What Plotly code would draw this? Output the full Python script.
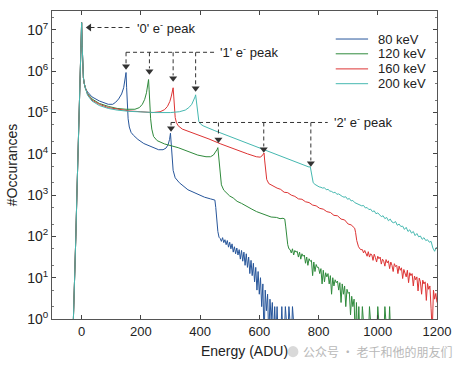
import numpy as np
import plotly.graph_objects as go

# ---------------- data (energies in ADU, counts read as log10 from the plot) ----------------
series_names = ["80 keV", "120 keV", "160 keV", "200 keV"]
series_colors = ["#27569b", "#2f8a3c", "#dd3333", "#45b8b0"]

# shared zero-electron peak rise
zero_x = [-29, -27, -23, -19.5, -16, -12, -8.5, -5, -2.5, 0, 2, 4, 6, 9, 13]
zero_log = [-0.3, 0.1, 1.0, 2.0, 3.0, 4.0, 5.0, 6.0, 6.7, 7.18, 6.6, 6.15, 5.85, 5.7, 5.58]

# 80 keV smooth part
e80_x = [20, 35, 60, 90, 105, 115, 125, 135, 142, 147, 150, 152, 154, 157, 161, 167, 175, 190, 210,
         235, 260, 275, 285, 292, 297, 300, 302, 305, 309, 316, 330, 359, 390, 415, 435, 446, 450,
         453, 456, 460, 464]
e80_log = [5.5, 5.38, 5.28, 5.2, 5.2, 5.25, 5.33, 5.45, 5.6, 5.8, 5.97, 5.6, 5.15, 4.85, 4.65, 4.52,
           4.45, 4.35, 4.25, 4.17, 4.1, 4.1, 4.14, 4.22, 4.35, 4.5, 4.25, 3.85, 3.6, 3.42, 3.3, 3.13,
           3.02, 2.95, 2.91, 2.9, 2.88, 2.7, 2.4, 2.12, 1.98]
# 80 keV noisy tail, x = 468, 472, ...
e80_tail_start = 468
e80_tail_log = [1.95, 1.88, 1.97, 1.85, 1.92, 1.80, 1.90, 1.74, 1.86, 1.70, 1.82, 1.62, 1.75, 1.58,
                1.72, 1.55, 1.68, 1.45, 1.66, 1.40, 1.62, 1.30, 1.58, 1.25, 1.50, 1.10, 1.42, 1.05,
                1.35, 0.90, 1.25, 0.70, 1.15, 0.60, 1.00, 0.30, 0.85, -0.5, 0.70, 0.20, 0.60, -0.5,
                0.48, 0.0, 0.40, -0.5, 0.30, -0.5, 0.30, -0.5, 0.0, -0.5, 0.30, -0.5, -0.5, 0.30,
                -0.5, -0.5, 0.30, -0.5, -0.5, 0.30, -0.5, -0.5]

# 120 keV smooth part
e120_x = [20, 35, 60, 90, 120, 150, 180, 195, 205, 213, 219, 223, 226, 228, 230, 233, 237, 243, 255,
          280, 326, 360, 392, 420, 435, 445, 452, 457, 460, 462, 465, 468, 472, 480, 490, 500, 512,
          525, 540, 558, 575, 591, 608, 625, 640, 658, 670, 680, 686, 689, 692, 696, 700]
e120_log = [5.46, 5.33, 5.22, 5.15, 5.1, 5.08, 5.08, 5.12, 5.2, 5.32, 5.48, 5.62, 5.8, 5.55, 5.2,
            4.85, 4.6, 4.42, 4.32, 4.24, 4.15, 4.05, 3.97, 3.93, 3.93, 3.97, 4.03, 4.1, 4.15, 4.0,
            3.7, 3.45, 3.25, 3.12, 3.04, 2.98, 2.93, 2.85, 2.8, 2.72, 2.66, 2.6, 2.56, 2.52, 2.47,
            2.46, 2.43, 2.44, 2.42, 2.25, 2.0, 1.8, 1.7]
# 120 keV noisy tail, x = 704, 708, ...
e120_tail_start = 704
e120_tail_log = [1.68, 1.60, 1.70, 1.55, 1.66, 1.62, 1.64, 1.50, 1.62, 1.45, 1.58, 1.52, 1.55, 1.35,
                 1.50, 1.30, 1.46, 1.40, 1.42, 1.05, 1.38, 1.15, 1.32, 1.25, 1.25, 1.10, 1.22, 0.85,
                 1.18, 0.90, 1.12, 1.02, 1.10, 0.85, 1.05, 0.60, 1.00, 0.80, 0.95, 0.88, 0.92, 0.70,
                 0.88, 0.40, 0.85, 0.60, 0.80, 0.30, 0.72, 0.62, 0.65, 0.10, 0.55, 0.30, 0.48, -0.5,
                 0.40, -0.5, 0.30, -0.5, -0.5, 0.30, -0.5, -0.5, -0.5, -0.5, -0.5, 0.30, -0.5, -0.5,
                 -0.5, -0.5, -0.5, -0.5, 0.30, -0.5, -0.5, -0.5, -0.5, -0.5, 0.30, -0.5, -0.5, -0.5,
                 0.30, -0.5, -0.5]

# 160 keV smooth part
e160_x = [20, 35, 60, 90, 120, 160, 200, 240, 265, 280, 290, 298, 303, 307, 309, 311, 313, 316, 320,
          326, 340, 359, 392, 430, 470, 520, 560, 590, 603, 609, 613, 616, 618, 621, 625, 632, 650,
          660, 672, 684, 696, 708, 720, 732, 744, 756, 768, 780, 792, 804, 816, 828, 840, 852, 864,
          876, 888, 900, 910, 918, 922, 925, 929, 935, 942]
e160_log = [5.44, 5.3, 5.2, 5.12, 5.08, 5.04, 5.02, 5.0, 5.02, 5.07, 5.15, 5.27, 5.4, 5.52, 5.6, 5.4,
            5.1, 4.88, 4.76, 4.68, 4.6, 4.55, 4.47, 4.36, 4.24, 4.1, 4.0, 3.93, 3.92, 3.95, 3.99,
            4.02, 3.85, 3.55, 3.38, 3.28, 3.2, 3.17, 3.14, 3.07, 3.06, 3.0, 2.97, 2.91, 2.9, 2.84,
            2.82, 2.76, 2.74, 2.68, 2.66, 2.6, 2.58, 2.51, 2.5, 2.42, 2.4, 2.3, 2.28, 2.22, 2.2,
            2.1, 1.9, 1.75, 1.68]
# 160 keV noisy tail, x = 948, 952, ...
e160_tail_start = 948
e160_tail_log = [1.68, 1.60, 1.66, 1.57, 1.52, 1.63, 1.50, 1.58, 1.55, 1.42, 1.57, 1.49, 1.38, 1.52,
                 1.46, 1.50, 1.33, 1.45, 1.40, 1.28, 1.44, 1.36, 1.41, 1.22, 1.38, 1.30, 1.15, 1.34,
                 1.27, 1.30, 1.10, 1.28, 1.18, 1.24, 0.98, 1.20, 1.12, 1.02, 1.18, 0.88, 1.12, 1.05,
                 1.10, 0.80, 1.04, 0.95, 1.02, 0.68, 0.99, 0.90, 0.60, 0.94, 0.85, 0.90, 0.45, 0.86,
                 0.72, 0.80, 0.25, -0.3, 0.70, 0.48, 0.62, 0.40]

# 200 keV smooth part
e200_x = [20, 35, 60, 90, 120, 160, 200, 250, 300, 330, 350, 362, 372, 379, 383, 385, 387, 389, 392,
          396, 402, 410, 450, 500, 560, 620, 680, 730, 760, 768, 772, 775, 778, 782, 788]
e200_log = [5.42, 5.28, 5.17, 5.1, 5.06, 5.03, 5.01, 5.0, 5.0, 5.02, 5.06, 5.12, 5.2, 5.3, 5.38,
            5.43, 5.3, 5.1, 4.9, 4.78, 4.72, 4.68, 4.56, 4.42, 4.25, 4.08, 3.92, 3.78, 3.7, 3.68,
            3.69, 3.55, 3.4, 3.3, 3.26]
# 200 keV noisy tail, x = 796, 802, ...
e200_tail_start = 796
e200_tail_log = [3.22, 3.20, 3.19, 3.17, 3.18, 3.13, 3.14, 3.10, 3.09, 3.06, 3.07, 3.02, 3.03, 2.99,
                 2.97, 2.95, 2.96, 2.90, 2.92, 2.86, 2.87, 2.82, 2.80, 2.79, 2.76, 2.74, 2.75, 2.69,
                 2.70, 2.65, 2.66, 2.60, 2.62, 2.55, 2.57, 2.52, 2.48, 2.50, 2.43, 2.46, 2.38, 2.42,
                 2.35, 2.33, 2.36, 2.27, 2.30, 2.24, 2.25, 2.17, 2.22, 2.12, 2.16, 2.08, 2.12, 2.02,
                 2.07, 1.99, 2.01, 1.93, 1.97, 1.90, 1.92, 1.86, 1.88, 1.72, 1.64, 1.74, 1.69]

tail_steps = [4, 4, 4, 6]

x_ticks = [0, 200, 400, 600, 800, 1000, 1200]
y_exponents = [0, 1, 2, 3, 4, 5, 6, 7]

# ---------------- build traces ----------------
smooth_x = [e80_x, e120_x, e160_x, e200_x]
smooth_log = [e80_log, e120_log, e160_log, e200_log]
tail_start = [e80_tail_start, e120_tail_start, e160_tail_start, e200_tail_start]
tail_log = [e80_tail_log, e120_tail_log, e160_tail_log, e200_tail_log]

FONT = "Liberation Sans, Arial, sans-serif"
fig = go.Figure()
for i in range(4):
    tx = tail_start[i] + tail_steps[i] * np.arange(len(tail_log[i]))
    xs = np.concatenate([zero_x, smooth_x[i], tx])
    ys = 10 ** np.concatenate([zero_log, smooth_log[i], tail_log[i]])
    fig.add_trace(go.Scatter(x=xs, y=ys, mode="lines", name=series_names[i], showlegend=False,
                             line=dict(color=series_colors[i], width=1)))

# ---------------- annotations (dashed leader lines + arrowheads) ----------------
dash_col = "#333333"
def dashed(xv, yv):
    fig.add_trace(go.Scatter(x=xv, y=yv, mode="lines", showlegend=False, hoverinfo="skip",
                             line=dict(color=dash_col, width=1, dash="4px,3px")))

def heads(xv, ylog, symbol):
    fig.add_trace(go.Scatter(x=xv, y=[10 ** v for v in ylog], mode="markers", showlegend=False,
                             hoverinfo="skip",
                             marker=dict(symbol=symbol, size=7, color=dash_col, line=dict(width=0))))

def label(x, ylog, txt):
    fig.add_annotation(x=x, y=ylog, xref="x", yref="y", text=txt, showarrow=False,
                       xanchor="left", yanchor="middle",
                       font=dict(family=FONT, size=13, color="#222"))

# '0' peak
y0 = 7.06
dashed([30, 168], [10 ** y0, 10 ** y0])
heads([26], [y0], "triangle-left")
label(180, y0, "'0' e<sup>-</sup> peak")

# '1' peak
y1 = 6.46
p1_x = [150, 229, 309, 385]
p1_tip = [6.04, 5.92, 5.75, 5.51]
dashed([150, 448], [10 ** y1, 10 ** y1])
for xv, t in zip(p1_x, p1_tip):
    dashed([xv, xv], [10 ** y1, 10 ** (t + 0.15)])
heads(p1_x, [t + 0.08 for t in p1_tip], "triangle-down")
label(462, y1, "'1' e<sup>-</sup> peak")

# '2' peak
y2 = 4.76
p2_x = [302, 462, 615, 774]
p2_tip = [4.54, 4.27, 4.03, 3.69]
dashed([302, 831], [10 ** y2, 10 ** y2])
for xv, t in zip(p2_x, p2_tip):
    dashed([xv, xv], [10 ** y2, 10 ** (t + 0.15)])
heads(p2_x, [t + 0.08 for t in p2_tip], "triangle-down")
label(845, y2, "'2' e<sup>-</sup> peak")

# ---------------- legend (drawn compactly, as in the reference) ----------------
leg_y = [0.909, 0.861, 0.812, 0.764]
for name, col, ly in zip(series_names, series_colors, leg_y):
    fig.add_shape(type="line", xref="paper", yref="paper", x0=0.737, x1=0.821, y0=ly, y1=ly,
                  line=dict(color=col, width=1))
    fig.add_annotation(x=0.841, y=ly, xref="paper", yref="paper", text=name, showarrow=False,
                       xanchor="left", yanchor="middle",
                       font=dict(family=FONT, size=13, color="#222"))

# watermark
fig.add_shape(type="circle", xref="paper", yref="paper", x0=0.612, x1=0.640, y0=-0.124, y1=-0.088,
              fillcolor="#d0d0d0", line=dict(width=0), opacity=0.8)
fig.add_annotation(x=0.648, y=-0.106, xref="paper", yref="paper", showarrow=False,
                   text="公众号 · 老千和他的朋友们", xanchor="left", yanchor="middle",
                   font=dict(family="Noto Sans CJK SC", size=12, color="#b8b8b8"))

axis_font = dict(family=FONT, size=13, color="#222")
fig.update_layout(
    width=461, height=369,
    margin=dict(l=52, r=18, t=10, b=50),
    paper_bgcolor="white", plot_bgcolor="white",
    font=dict(family=FONT, size=13, color="#222"),
    showlegend=False,
    xaxis=dict(range=[-100, 1200], tickvals=x_ticks, ticks="inside", ticklen=4,
               showline=True, linecolor="#555", linewidth=1, mirror="ticks",
               showgrid=False, zeroline=False, tickfont=axis_font,
               title=dict(text="Energy (ADU)", font=dict(size=14), standoff=8)),
    yaxis=dict(type="log", range=[0, 7.46],
               tickvals=[10 ** e for e in y_exponents],
               ticktext=["10<sup>%d</sup>" % e for e in y_exponents],
               ticks="inside", ticklen=4, showline=True, linecolor="#555", linewidth=1,
               mirror="ticks", showgrid=False, zeroline=False,
               tickfont=dict(family=FONT, size=14, color="#222"),
               minor=dict(ticks="inside", ticklen=2, tickcolor="#777", showgrid=False),
               title=dict(text="#Occurances", font=dict(size=14), standoff=6)),
)

fig.write_html("out.html", config={"displayModeBar": False},
               post_script="document.body.style.margin='0';document.body.style.overflow='hidden';")
